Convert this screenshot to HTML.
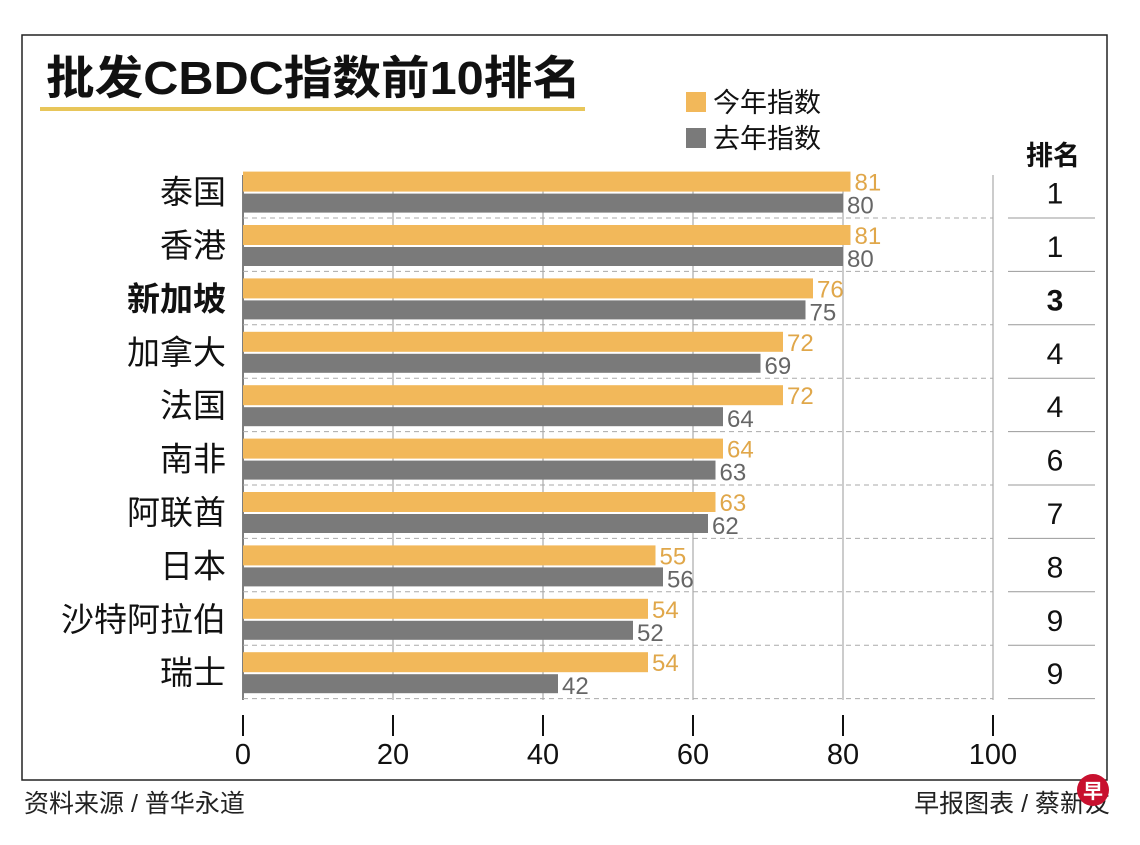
<!DOCTYPE html>
<html><head><meta charset="utf-8"><style>
body{margin:0;background:#fff;}
svg text{font-family:"Liberation Sans","Noto Sans CJK SC",sans-serif;}
</style></head><body>
<svg width="1140" height="840" viewBox="0 0 1140 840" xmlns="http://www.w3.org/2000/svg">
<rect x="22" y="35" width="1085" height="745" fill="#fff" stroke="#222" stroke-width="1.5"/>
<text x="46" y="94" font-size="46" font-weight="bold" fill="#111" textLength="535" lengthAdjust="spacingAndGlyphs">批发CBDC指数前10排名</text>
<rect x="40" y="107" width="545" height="4" fill="#e8c65a"/>
<rect x="686" y="92" width="20" height="20" fill="#f2b85a"/>
<text x="713" y="112" font-size="27" fill="#111">今年指数</text>
<rect x="686" y="128" width="20" height="20" fill="#7a7a7a"/>
<text x="713" y="148" font-size="27" fill="#111">去年指数</text>
<text x="1053" y="165" font-size="27" font-weight="bold" text-anchor="middle" fill="#111">排名</text>
<g id="chart"></g>
<text x="24" y="812" font-size="25" fill="#222">资料来源 / 普华永道</text>
<text x="1110" y="812" font-size="25" fill="#222" text-anchor="end">早报图表 / 蔡新友</text>
<circle cx="1093" cy="790" r="16" fill="#c8102e"/>
<text x="1093" y="798" font-size="20" font-weight="bold" fill="#fff" text-anchor="middle">早</text>
</svg>
<script>
const categories=["泰国","香港","新加坡","加拿大","法国","南非","阿联酋","日本","沙特阿拉伯","瑞士"];
const thisYear=[81,81,76,72,72,64,63,55,54,54];
const lastYear=[80,80,75,69,64,63,62,56,52,42];
const ranks=[1,1,3,4,4,6,7,8,9,9];
const ticks=[0,20,40,60,80,100];
const highlight="新加坡";
const NS="http://www.w3.org/2000/svg";
const g=document.getElementById('chart');
const x=v=>243+v*7.5;
const rowTop=i=>164.6+i*53.4;
function mk(t,a,txt){const e=document.createElementNS(NS,t);for(const k in a)e.setAttribute(k,a[k]);if(txt!==undefined)e.textContent=txt;g.appendChild(e);return e;}
ticks.forEach(t=>{
 if(t>0){const l=mk('line',{x1:x(t),x2:x(t),y1:175,y2:700,stroke:'#aaa','stroke-width':1.2});
 
 }
 const tk=mk('line',{x1:x(t),x2:x(t),y1:715,y2:736,stroke:'#111','stroke-width':2});
 
 
 const tl=mk('text',{x:x(t),y:764,'font-size':29,'text-anchor':'middle',fill:'#111'},String(t));
 
 
});
const ax=mk('line',{x1:243,x2:243,y1:175,y2:700,stroke:'#555','stroke-width':1.5});


categories.forEach((c,i)=>{
 const t=rowTop(i);
 const sep=mk('line',{x1:243,x2:993,y1:t+53.4,y2:t+53.4,stroke:'#aaa','stroke-dasharray':'5,4','stroke-width':1});
 
 
 const rs=mk('line',{x1:1008,x2:1095,y1:t+53.4,y2:t+53.4,stroke:'#999','stroke-width':1});
 
 
 const b1=mk('rect',{x:243,y:t+7,width:x(thisYear[i])-243,height:20,fill:'#f2b85a'});
 
 
 const b2=mk('rect',{x:243,y:t+29,width:x(lastYear[i])-243,height:19,fill:'#7a7a7a'});
 
 
 const v1=mk('text',{x:x(thisYear[i])+4,y:t+26,'font-size':24,fill:'#e0a74a'},String(thisYear[i]));
 
 
 const v2=mk('text',{x:x(lastYear[i])+4,y:t+49,'font-size':24,fill:'#666'},String(lastYear[i]));
 
 
 const bold=c===highlight;
 const cl=mk('text',{x:226,y:t+39,'font-size':33,'text-anchor':'end',fill:'#111','font-weight':bold?'bold':'normal'},c);
 
 
 const rk=mk('text',{x:1055,y:t+39,'font-size':30,'text-anchor':'middle',fill:'#111','font-weight':bold?'bold':'normal'},String(ranks[i]));
 
 
});
</script>
</body></html>
